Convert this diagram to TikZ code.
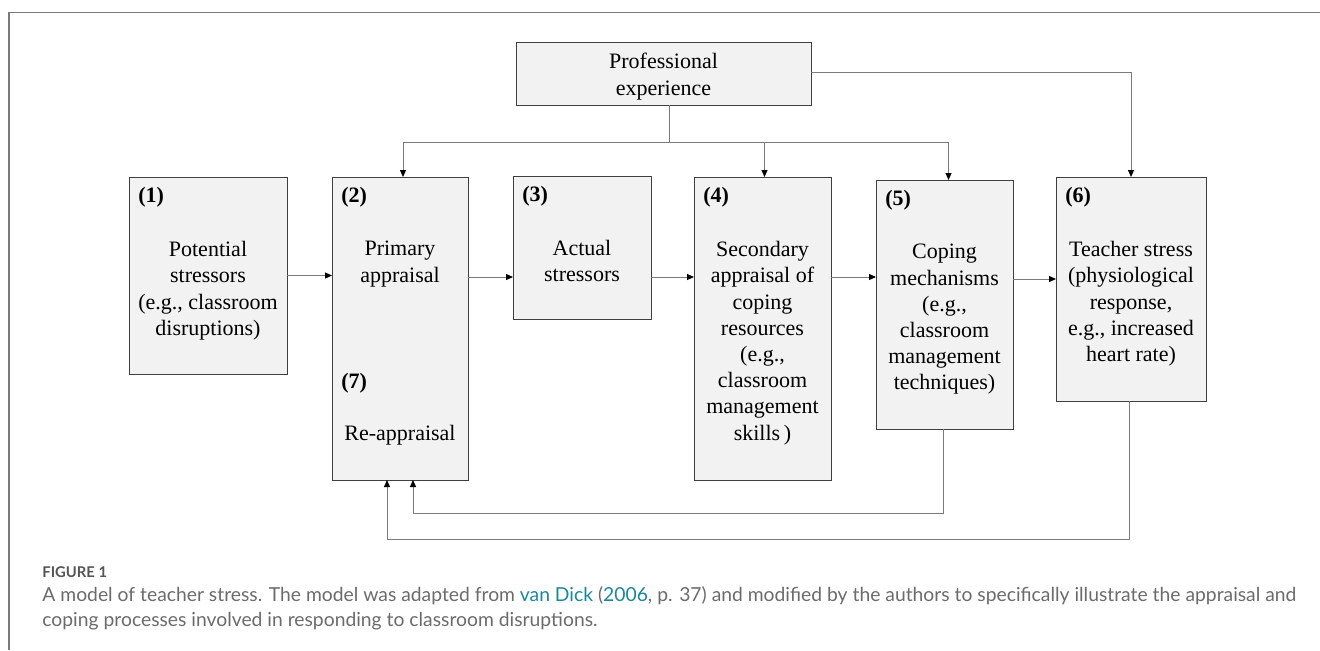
\documentclass[tikz,border=0pt]{standalone}
\usepackage{fontspec}
\setmainfont{Liberation Serif}
\newfontfamily\capfont{Lato}
\usepackage{xcolor}
\usetikzlibrary{arrows.meta}
\definecolor{BoxFill}{HTML}{F2F2F2}
\definecolor{BoxLine}{HTML}{3F3F3F}
\definecolor{LinkGray}{HTML}{7A7A7A}
\definecolor{CapGray}{HTML}{6B6B6B}
\definecolor{CapHead}{HTML}{555555}
\definecolor{CapLink}{HTML}{1A879A}
\begin{document}
\begin{tikzpicture}[x=0.5pt,y=-0.5pt,
  font=\fontsize{11}{13.1}\selectfont,
  stage/.style={draw=BoxLine,fill=BoxFill,line width=0.5pt,anchor=north west,inner sep=0pt,outer sep=0pt},
  txt/.style={align=center,inner sep=0pt,anchor=north},
  num/.style={font=\fontsize{11}{13.1}\selectfont\bfseries,inner sep=0pt,anchor=base west},
  flow/.style={draw=LinkGray,line width=0.5pt,-{Triangle[length=3.5pt,width=3pt,color=black]}},
  link/.style={draw=LinkGray,line width=0.5pt}]
  \useasboundingbox (0,0) rectangle (1320,650);

  % Frame (top and left only)
  \draw[LinkGray,line width=0.6pt] (1320,12.6) -- (9,12.6) -- (9,650);

  % Professional experience (top)
  \node[stage,minimum width=147.5pt,minimum height=31.5pt] (prof) at (516,42) {};
  \node[txt] (tprof) at ([yshift=-5.5pt]prof.north) {Professional\\experience};

  % Stages
  \node[stage,minimum width=79pt,minimum height=98.5pt] (b1) at (129,177) {};
  \node[stage,minimum width=68pt,minimum height=151.5pt] (b2) at (332,177) {};
  \node[stage,minimum width=69pt,minimum height=71.5pt] (b3) at (513,176) {};
  \node[stage,minimum width=68.5pt,minimum height=151.5pt] (b4) at (694,177) {};
  \node[stage,minimum width=68.5pt,minimum height=124.5pt] (b5) at (876,180) {};
  \node[stage,minimum width=75pt,minimum height=112pt] (b6) at (1056,177) {};

  % Numbers
  \foreach \b/\n in {b1/1,b2/2,b3/3,b4/4,b5/5,b6/6}
    \node[num] (n\n) at ([xshift=4.5pt,yshift=-12.5pt]\b.north west) {(\n)};
  \node[num] (n7) at ([xshift=4.5pt,yshift=-105.5pt]b2.north west) {(7)};

  % Texts
  \node[txt] (t1) at ([yshift=-32pt]b1.north) {Potential\\stressors\\(e.g., classroom\\disruptions)};
  \node[txt] (t2) at ([yshift=-32pt]b2.north) {Primary\\appraisal};
  \node[txt] (t7) at ([yshift=-123.75pt]b2.north) {Re-appraisal};
  \node[txt] (t3) at ([yshift=-32pt]b3.north) {Actual\\stressors};
  \node[txt] (t4) at ([yshift=-32pt]b4.north) {Secondary\\appraisal of\\coping\\resources\\(e.g.,\\classroom\\management\\skills\,)};
  \node[txt] (t5) at ([yshift=-32pt]b5.north) {Coping\\mechanisms\\(e.g.,\\classroom\\management\\techniques)};
  \node[txt] (t6) at ([yshift=-32pt]b6.north) {Teacher stress\\(physiological\\response,\\e.g., increased\\heart rate)};

  % Main chain
  \coordinate (row) at (0,277);
  \draw[flow] (b1.east) -- (b1.east -| b2.west);
  \draw[flow] (b2.east |- row) -- (b3.west |- row);
  \draw[flow] (b3.east |- row) -- (b4.west |- row);
  \draw[flow] (b4.east |- row) -- (b5.west |- row);
  \draw[flow] ([yshift=-1pt]b5.east |- row) -- ([yshift=-1pt]b6.west |- row);

  % Experience feeds appraisal, coping and stress
  \coordinate (split) at (669,142);
  \draw[link] (prof.south -| split) -- (split);
  \draw[flow] (split) -| ([xshift=1.5pt]b2.north);
  \draw[flow] (split) -| ([xshift=1pt]b4.north);
  \draw[flow] (split) -| ([xshift=2pt]b5.north);
  \draw[flow] ([yshift=0.75pt]prof.east) -| (b6.north);

  % Feedback to re-appraisal
  \coordinate (fb5) at (413,513);
  \coordinate (fb6) at (387,539);
  \draw[flow] ([xshift=-0.75pt]b5.south) |- (fb5) -- (fb5 |- b2.south);
  \draw[flow] ([xshift=-0.75pt]b6.south) |- (fb6) -- (fb6 |- b2.south);

  % Caption
  \node[font=\capfont\fontsize{7.4}{9}\selectfont\bfseries,text=CapHead,inner sep=0pt,anchor=base west] (fig) at (42,577) {FIGURE 1};
  \node[font=\capfont\fontsize{9.65}{12.8}\selectfont,text=CapGray,align=left,inner sep=0pt,anchor=north west] (cap) at (42,586)
    {A model of teacher stress. The model was adapted from \textcolor{CapLink}{van Dick} (\textcolor{CapLink}{2006}, p. 37) and modified by the authors to specifically illustrate the appraisal and\\coping processes involved in responding to classroom disruptions.};
\end{tikzpicture}
\end{document}
